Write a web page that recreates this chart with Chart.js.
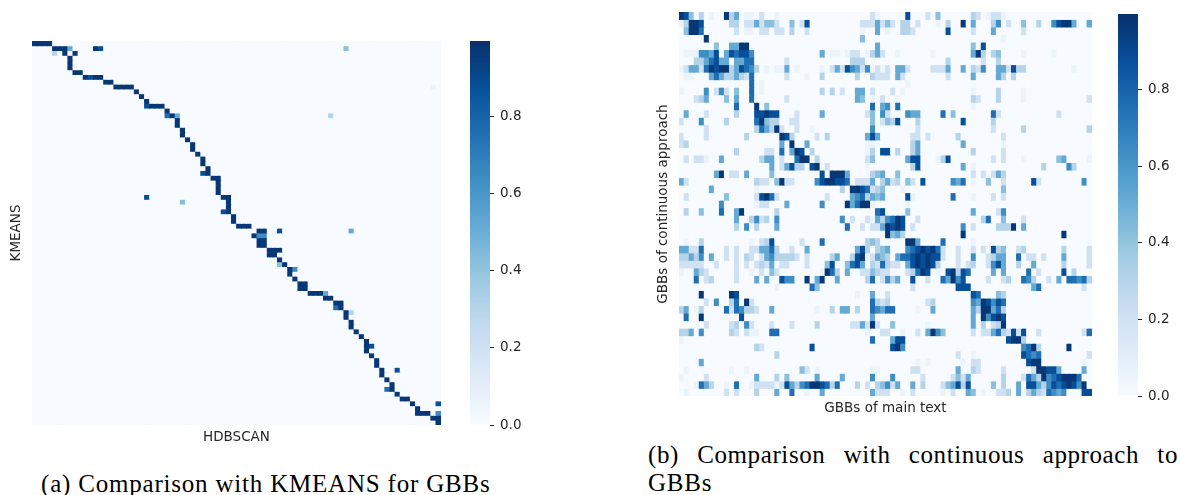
<!DOCTYPE html>
<html>
<head>
<meta charset="utf-8">
<script src="https://cdn.jsdelivr.net/npm/chart.js@4.4.1/dist/chart.umd.min.js"></script>
<style>
html,body{margin:0;padding:0;background:#fff;width:1180px;height:495px;overflow:hidden;position:relative}
canvas{position:absolute}
.cap{position:absolute;font-family:"Liberation Serif","Times New Roman",serif;font-size:25px;letter-spacing:0.8px;line-height:28px;color:#000;white-space:nowrap}
</style>
</head>
<body>
<canvas id="hmA" width="460" height="455" style="left:0px;top:0px"></canvas>
<canvas id="cbA" width="90" height="455" style="left:460px;top:0px"></canvas>
<canvas id="hmB" width="470" height="430" style="left:640px;top:0px"></canvas>
<canvas id="cbB" width="80" height="430" style="left:1100px;top:0px"></canvas>
<div class="cap" style="left:41px;top:470px">(a) Comparison with KMEANS for GBBs</div>
<div class="cap" style="left:648px;top:441px;width:530px;text-align:justify;text-align-last:justify;white-space:normal;letter-spacing:0.6px">(b) Comparison with continuous approach to</div>
<div class="cap" style="left:648px;top:469px">GBBs</div>
<script>
// ---------- colour scale ----------
const BLUES = ['#f7fbff','#deebf7','#c6dbef','#9ecae1','#6baed6','#4292c6','#2171b5','#08519c','#08306b'];
// level (0..9) -> value
const LEVELS = [0, 0.06, 0.2, 0.3, 0.42, 0.52, 0.64, 0.76, 0.88, 0.97];
const COLOR_MAX = 0.997;
const CB_TICKS = [0, 0.2, 0.4, 0.6, 0.8];

// ---------- (a) KMEANS vs HDBSCAN : 80 x 80, per row [col, level, col, level, ...] ----------
const A_ROWS = 80, A_COLS = 80;
const leftRows = [
 [0,9,1,9,2,9,3,9],
 [4,9,5,9,6,9,7,5,12,9,13,8,61,4],
 [4,3,6,9,8,9],
 [7,9],[7,9],[7,9],
 [8,9,9,9],
 [10,9,11,8,12,9,13,9],
 [14,9,15,9],
 [16,9,17,9,18,9,19,9,78,1],
 [20,9],[21,9],[22,9],
 [22,8,23,9,24,9,25,9],
 [26,9],
 [26,7,27,9,28,5,58,3],
 [28,9],[28,9],[29,9],[29,9],[30,9],[31,9],[31,9],[32,9],[33,9],[33,9],[34,9],
 [33,8,34,9],
 [35,9,36,9],
 [36,9],[36,9],[36,9],
 [22,8,37,9,38,9],
 [29,4,38,9],
 [38,9],
 [37,8,38,9],
 [39,9],[39,9],
 [40,9,41,9,42,9],
 [44,9,45,9,48,8,62,5],
 [43,9,44,6,45,6],
 [44,9,45,9],[44,9,45,9],
 [46,9,47,9,48,9],
 [46,9,47,9],
 [48,9],
 [48,4,49,9],
 [50,9,51,6],
 [50,9],
 [51,9],
 [52,9,53,9],[52,9,53,9],
 [54,9,55,9,56,9,57,5],
 [57,9,58,9],
 [59,9,60,9],
 [59,7,60,9],
 [61,9,62,3],
 [61,9],[62,9],[62,9],[63,9],[64,9],[65,9],
 [65,9,66,8],
 [65,9],[66,9],[67,9],[67,9],
 [68,9,71,8],
 [68,9],[69,9],[70,9],
 [69,7,70,9],
 [71,9],
 [72,9,73,9],
 [74,9,79,8],
 [75,9],
 [75,9,76,9,77,9,79,6],
 [78,9,79,9],
 [79,9]
];

// ---------- (b) continuous vs main text : 51 x 82 ----------
const B_ROWS = 51, B_COLS = 82;
const rightRows = [
 [0,9,1,8,2,4,4,3,6,1,9,9,10,3,11,5,13,1,14,1,16,2,19,1,38,2,39,1,45,8,49,2,51,4,58,3,59,2,61,1,62,2,63,2,64,1],
 [0,1,1,3,2,9,3,9,4,8,10,3,11,3,13,2,14,2,15,5,16,2,17,4,18,4,19,2,22,4,24,2,25,8,36,2,37,2,38,2,39,5,40,2,41,4,42,2,44,3,45,3,47,2,51,1,53,3,56,9,58,5,62,3,63,6,65,2,68,4,71,3,74,6,75,8,76,9,77,9,78,5,81,5],
 [1,4,2,9,3,9,4,7,11,2,13,1,14,1,16,2,17,2,19,2,20,2,22,3,25,2,36,1,39,5,41,1,44,3,45,3,46,2,53,8,58,2,62,5,68,2],
 [5,9,36,4,64,1],
 [7,4,10,5,11,5,12,9,13,9,39,5,58,4,60,8],
 [1,1,2,1,3,1,4,6,5,6,6,5,7,8,9,5,10,8,11,7,12,8,13,8,14,6,28,5,30,1,31,1,33,1,34,2,35,2,37,1,38,3,39,5,40,2,43,1,50,1,58,5,59,9,60,3,62,3,63,4,68,1,74,1],
 [3,3,4,3,5,5,6,7,7,8,8,5,9,5,11,5,12,5,13,7,14,7,21,2,34,3,35,3,36,3,53,3,60,2,63,3],
 [0,1,1,2,2,5,3,5,4,2,5,7,6,9,7,8,8,9,9,9,10,3,11,5,12,8,13,7,14,6,15,3,17,1,19,1,20,1,21,5,23,1,28,1,30,2,31,5,32,2,33,8,34,6,35,5,36,2,37,6,38,1,39,2,40,1,41,2,43,5,44,5,45,2,50,2,51,2,52,2,53,5,56,5,58,3,59,2,60,6,63,5,64,5,65,2,66,8,67,3,68,3,78,1],
 [1,1,2,1,6,5,7,7,8,5,9,3,10,3,11,5,12,3,13,2,14,7,21,2,25,1,28,3,35,3,38,3,39,2,40,2,41,2,43,5,44,2,53,2,58,5,63,5,64,3,66,3],
 [14,7,16,1,45,1],
 [0,1,5,6,7,2,8,6,9,2,11,4,14,7,16,1,28,3,30,3,32,2,35,5,36,5,38,2,42,2,44,1,58,1,63,3,68,1],
 [3,2,4,3,5,5,9,4,11,5,14,7,21,2,35,5,36,4,38,1,40,2,43,1,58,3,59,2,63,3,68,1,81,2],
 [11,7,15,9,17,4,38,7,40,5,41,6,43,7,58,1],
 [1,5,5,2,11,3,15,8,16,8,17,9,18,8,19,8,23,2,28,5,37,2,38,4,40,6,41,2,45,6,46,5,47,5,52,7,54,4,62,7,63,2,75,2],
 [0,2,4,6,9,3,15,7,16,9,17,4,18,3,19,3,22,2,23,2,38,4,40,2,41,4,42,3,43,8,47,3,56,8,62,3],
 [5,2,15,3,16,7,17,5,18,3,19,9,20,2,23,2,26,1,38,6,47,2,62,2,68,3,81,3],
 [0,2,5,2,13,3,20,9,21,8,22,3,27,2,29,3,37,5,38,8,39,5,46,2,47,2,49,2,55,3,64,2],
 [0,2,1,3,20,5,22,9,25,5,37,1,38,1,46,3,47,5,56,5,64,1],
 [11,3,17,2,18,2,20,7,22,5,23,9,24,8,26,3,37,1,38,3,40,8,41,8,43,3,46,3,47,5,58,3,64,2],
 [1,2,3,2,4,2,5,1,8,5,16,3,17,5,18,5,20,2,23,7,24,9,25,9,27,3,37,2,38,4,45,5,46,8,47,8,51,1,52,3,53,8,62,2,64,2,68,1,75,4,76,5,81,1],
 [18,5,20,2,21,5,22,8,23,3,24,3,26,8,27,9,29,2,37,1,46,3,47,8,56,5,58,1,72,3,77,6,78,3],
 [7,5,8,9,10,2,11,2,13,5,18,4,28,8,30,9,31,9,32,9,33,5,38,3,39,4,40,5,43,4,58,2,60,2,62,2,63,5,64,3],
 [0,5,1,2,15,3,16,2,17,2,19,4,20,9,21,2,22,2,27,6,28,8,29,9,30,9,31,8,32,8,33,7,35,2,36,2,37,2,38,5,40,3,41,5,42,2,43,3,45,4,46,2,48,8,54,6,55,5,56,7,58,1,61,4,64,2,70,8,71,2,80,6],
 [6,5,15,1,32,3,34,9,35,9,36,8,37,7,38,2,39,3,40,4,44,1,64,4],
 [1,2,9,4,15,2,16,8,17,9,18,7,19,2,29,2,34,5,35,6,36,7,37,3,38,5,39,4,40,5,45,8,46,1,54,7,58,1,62,2,64,2],
 [8,6,15,1,16,2,17,2,21,5,28,6,33,9,34,5,35,7,36,9,37,9,38,1,45,1],
 [1,3,4,4,8,7,11,5,12,9,19,3,39,7,40,8,45,4,58,5,63,2,64,6],
 [11,5,14,3,15,6,16,2,17,3,19,6,32,6,34,2,37,2,38,1,39,5,40,3,41,6,42,7,43,9,44,8,47,2,60,3,61,7,64,4,68,2],
 [11,3,13,6,15,3,19,5,33,7,36,2,38,2,39,2,40,5,41,9,42,8,43,9,44,8,46,2,56,6,58,2,63,3,64,3,65,3,66,9,68,5],
 [41,9,42,4,43,5,44,3,56,9,76,9],
 [1,1,4,3,14,1,16,2,17,3,18,8,24,2,28,7,37,3,38,4,39,3,45,9,46,9,47,5,52,7,58,1],
 [0,5,1,5,2,2,3,2,4,7,9,2,11,2,14,2,15,2,16,5,17,5,18,7,19,3,22,2,25,5,35,5,36,8,37,3,39,3,40,4,41,5,45,6,46,7,47,8,48,9,49,8,50,9,51,7,52,2,55,2,58,2,60,2,62,8,63,3,64,4,67,2,68,3,76,3,81,2],
 [0,3,1,3,2,5,3,3,4,6,6,5,9,2,11,2,13,3,14,2,16,2,17,5,18,6,19,3,20,3,21,3,22,3,23,2,25,2,30,3,31,5,34,3,35,8,36,9,37,1,38,2,39,5,40,4,41,3,43,5,44,7,45,7,46,8,47,9,48,8,49,9,50,8,51,8,52,2,55,2,58,6,61,2,62,3,63,5,64,5,67,7,69,2,70,2,72,2,76,5,81,2],
 [0,2,1,2,2,2,3,2,4,2,7,2,11,2,13,2,15,2,16,3,17,2,18,5,20,2,21,2,25,2,29,4,30,8,33,4,34,7,35,8,36,5,38,3,39,2,40,7,41,3,42,2,43,2,45,5,46,8,47,9,48,8,49,9,50,8,51,3,55,2,57,2,58,3,61,2,62,6,63,8,64,5,67,3,70,5,76,3,81,2],
 [0,1,3,5,4,3,5,2,11,2,14,1,16,2,18,4,19,2,28,1,29,9,30,7,31,3,33,5,36,2,37,2,38,4,39,3,40,2,41,2,45,2,46,3,47,7,48,9,49,8,51,1,53,8,54,9,55,3,56,8,57,7,62,5,64,5,69,7,71,2,76,8,78,3],
 [3,7,5,2,6,3,11,2,15,5,17,5,20,8,21,6,22,6,25,9,27,5,28,9,31,5,37,3,38,7,40,2,41,6,42,3,43,5,46,8,49,2,52,7,53,5,54,9,55,6,56,8,61,2,64,2,65,3,68,7,69,6,70,3,73,2,75,5,77,7,78,7,79,6,80,7,81,3],
 [19,1,26,7,27,4,46,2,55,8,56,8,57,8,69,1,70,5,71,7,80,2],
 [4,9,10,9,11,8,35,1,38,5,41,2,58,8,59,7,63,4,64,3],
 [5,2,7,6,10,3,11,7,13,9,14,2,38,7,39,3,40,2,41,3,49,2,50,3,58,6,59,5,60,9,61,8,62,6,63,8,64,7],
 [0,3,1,5,3,1,4,3,9,7,10,2,11,7,12,6,13,3,14,3,15,2,18,5,27,1,30,3,32,5,33,5,35,3,38,7,39,6,40,5,41,7,42,7,47,1,50,5,58,5,59,3,60,9,61,9,62,5,63,7,64,3],
 [1,7,4,9,12,8,38,5,58,5,60,9,61,6,62,8,63,9,64,8],
 [5,2,10,2,11,3,13,6,14,2,18,2,22,2,27,3,34,2,35,2,36,5,37,2,38,9,39,2,42,4,49,1,58,5,60,3,62,2,63,3,64,9],
 [0,3,1,3,2,5,4,6,10,3,11,2,13,2,14,1,15,1,18,7,19,7,37,1,40,2,41,2,44,1,47,2,49,5,50,9,51,6,52,4,58,2,60,2,61,2,62,5,63,7,64,3,65,2,66,8,67,2,68,8,71,2,80,2,81,7],
 [0,1,38,7,42,5,43,8,44,8,65,8,66,9,67,9,68,3],
 [15,3,16,2,26,8,42,8,43,9,44,6,68,6,69,7,70,9,71,3,77,9],
 [19,3,55,2,58,1,68,8,69,7,70,6,71,7,81,2],
 [4,5,47,1,49,1,56,1,58,2,59,2,69,8,70,9,71,9,80,1],
 [1,1,10,1,13,1,24,4,25,2,27,1,38,1,39,1,46,2,47,2,55,5,58,3,59,2,64,2,70,2,71,9,72,9,73,8,74,8,75,5,80,5],
 [0,1,5,2,15,5,19,3,21,4,27,5,32,5,38,6,42,6,48,2,54,2,55,4,56,2,57,5,64,3,68,2,69,7,70,5,71,3,72,9,73,6,74,7,75,8,76,9,77,9,78,9,79,7],
 [3,1,4,7,5,5,6,3,9,1,11,7,14,1,15,2,16,2,17,2,18,2,19,1,20,2,21,8,22,5,23,3,24,6,25,7,26,9,27,9,28,8,29,7,30,3,31,7,35,3,37,2,39,3,40,4,41,6,42,2,43,5,46,5,48,3,52,2,53,4,54,5,55,8,56,3,57,8,62,4,64,3,67,5,69,8,70,8,71,5,72,3,73,6,74,8,75,7,76,8,77,9,78,8,79,6,80,9],
 [1,1,9,2,11,2,15,3,19,5,22,7,25,1,28,5,38,5,39,2,40,2,41,2,44,1,46,2,52,1,54,2,57,5,58,4,60,1,63,2,64,2,65,3,67,5,69,3,70,5,71,3,72,2,73,7,74,6,75,5,76,6,80,8,81,8]
];

// ---------- helpers ----------
const TEXT = '#262626';
const SANS = '"DejaVu Sans", sans-serif';
const RGB = BLUES.map(h => [parseInt(h.slice(1,3),16), parseInt(h.slice(3,5),16), parseInt(h.slice(5,7),16)]);
function blues(v) {
  const t = Math.max(0, Math.min(1, v / COLOR_MAX)) * 8;
  const i = Math.min(7, Math.floor(t));
  const f = t - i;
  const a = RGB[i], b = RGB[i + 1];
  return 'rgb(' + [0,1,2].map(k => Math.round(a[k] + (b[k] - a[k]) * f)).join(',') + ')';
}

function heatmap(id, rows, nRows, nCols, o) {
  const labels = Array.from({length: nCols}, (_, i) => String(i));
  const datasets = [];
  for (let r = 0; r < nRows; r++) {
    const vals = new Array(nCols).fill(0);
    const list = rows[r] || [];
    for (let k = 0; k < list.length; k += 2) vals[list[k]] = LEVELS[list[k + 1]];
    datasets.push({
      data: vals.map(() => [r, r + 1]),
      backgroundColor: vals.map(blues),
      borderWidth: 0,
      inflateAmount: 0.4,
      barPercentage: 1,
      categoryPercentage: 1,
      grouped: false
    });
  }
  const titleFont = {family: SANS, size: 13.5};
  return new Chart(document.getElementById(id), {
    type: 'bar',
    data: {labels, datasets},
    options: {
      responsive: false, animation: false, devicePixelRatio: 1, events: [],
      layout: {padding: o.padding},
      plugins: {legend: {display: false}, tooltip: {enabled: false}},
      scales: {
        x: {
          type: 'category', offset: true,
          grid: {display: false}, border: {display: false}, ticks: {display: false},
          title: {display: true, text: o.xTitle, color: TEXT, font: titleFont, padding: {top: 0, bottom: 4}},
          afterFit: s => { s.height = o.xAxisH; }
        },
        y: {
          type: 'linear', min: 0, max: nRows, reverse: true,
          grid: {display: false}, border: {display: false}, ticks: {display: false},
          title: {display: true, text: o.yTitle, color: TEXT, font: titleFont, padding: {top: o.yTitlePad, bottom: 0}},
          afterFit: s => { s.width = o.yAxisW; }
        }
      }
    }
  });
}

function colorbar(id, o) {
  return new Chart(document.getElementById(id), {
    type: 'bar',
    data: {
      labels: ['scale'],
      datasets: [{
        data: [[0, COLOR_MAX]],
        backgroundColor: ctx => {
          const ca = ctx.chart.chartArea;
          if (!ca) return BLUES[4];
          const g = ctx.chart.ctx.createLinearGradient(0, ca.bottom, 0, ca.top);
          BLUES.forEach((c, i) => g.addColorStop(i / 8, c));
          return g;
        },
        borderWidth: 0, inflateAmount: 0, barPercentage: 1, categoryPercentage: 1
      }]
    },
    options: {
      responsive: false, animation: false, devicePixelRatio: 1, events: [],
      layout: {padding: o.padding},
      plugins: {legend: {display: false}, tooltip: {enabled: false}},
      scales: {
        x: {display: false, offset: true},
        y: {
          position: 'right', min: 0, max: COLOR_MAX,
          grid: {display: true, drawOnChartArea: false, drawTicks: true, tickLength: 4, tickColor: TEXT, tickWidth: 1},
          border: {display: false},
          ticks: {color: TEXT, font: {family: SANS, size: 13.5}, padding: 6, callback: v => Number(v).toFixed(1)},
          afterBuildTicks: s => { s.ticks = CB_TICKS.map(v => ({value: v})); },
          afterFit: s => { s.width = o.axisW; }
        }
      }
    }
  });
}

heatmap('hmA', leftRows, A_ROWS, A_COLS, {
  xTitle: 'HDBSCAN', yTitle: 'KMEANS',
  padding: {left: 0, top: 41, right: 19, bottom: 5.9},
  xAxisH: 24.1, yAxisW: 32, yTitlePad: 7.9
});
colorbar('cbA', {padding: {left: 10, top: 41, right: 0, bottom: 30}, axisW: 60});

heatmap('hmB', rightRows, B_ROWS, B_COLS, {
  xTitle: 'GBBs of main text', yTitle: 'GBBs of continuous approach',
  padding: {left: 0, top: 12, right: 18, bottom: 9.9},
  xAxisH: 24.1, yAxisW: 39, yTitlePad: 14.9
});
colorbar('cbB', {padding: {left: 18, top: 12, right: 0, bottom: 34}, axisW: 42});
</script>
</body>
</html>
